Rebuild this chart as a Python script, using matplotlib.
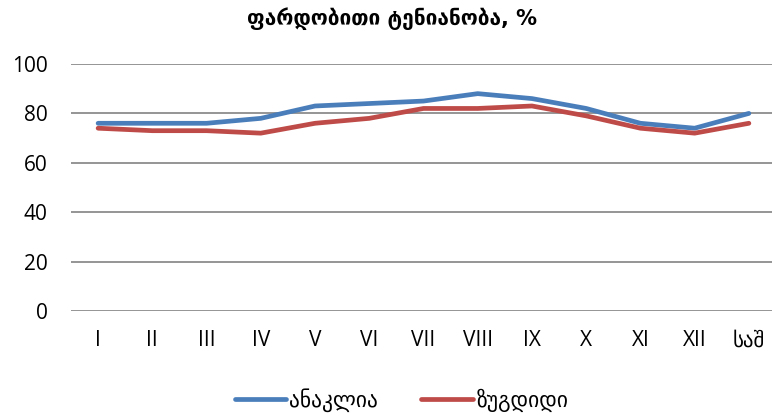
import matplotlib
matplotlib.use("Agg")
import matplotlib.pyplot as plt

categories = ["I", "II", "III", "IV", "V", "VI", "VII", "VIII", "IX", "X", "XI", "XII", "საშ"]
anaklia = [76, 76, 76, 78, 83, 84, 85, 88, 86, 82, 76, 74, 80]
zugdidi = [74, 73, 73, 72, 76, 78, 82, 82, 83, 79, 74, 72, 76]
yticks = [0, 20, 40, 60, 80, 100]

plt.rcParams['font.family'] = ['Open Sans', 'DejaVu Sans']

fig = plt.figure(figsize=(7.72, 4.18), dpi=100)
ax = fig.add_axes([71/772, 107/418, 705/772, 247/418])

x = list(range(len(categories)))
ax.plot(x, anaklia, color="#4A7EBB", lw=3.4, label="ანაკლია", solid_capstyle="round")
ax.plot(x, zugdidi, color="#BE4B48", lw=3.4, label="ზუგდიდი", solid_capstyle="round")

ax.set_xlim(-0.5, len(categories) - 0.5)
ax.set_ylim(0, 100)
ax.set_yticks(yticks)
ax.set_xticks(x)
ax.set_xticklabels(categories, family=['Open Sans', 'DejaVu Sans'])
ax.tick_params(axis='both', length=0, labelsize=15, colors="black")
ax.tick_params(axis='x', pad=14)
ax.tick_params(axis='y', pad=17)
ax.grid(axis='y', color="#8C8C8C", lw=1.3)
ax.set_axisbelow(True)
for s in ax.spines.values():
    s.set_visible(False)

fig.text(0.508, 0.955, "ფარდობითი ტენიანობა, %", ha="center", va="center",
         fontsize=15, fontweight="bold", family=['DejaVu Sans'])

fig.legend(loc="center", bbox_to_anchor=(0.52, 18/418), ncol=2, frameon=False,
           fontsize=15.5, handlelength=2.4, columnspacing=2.0, handletextpad=0.15)

fig.savefig("out.png", dpi=100)
